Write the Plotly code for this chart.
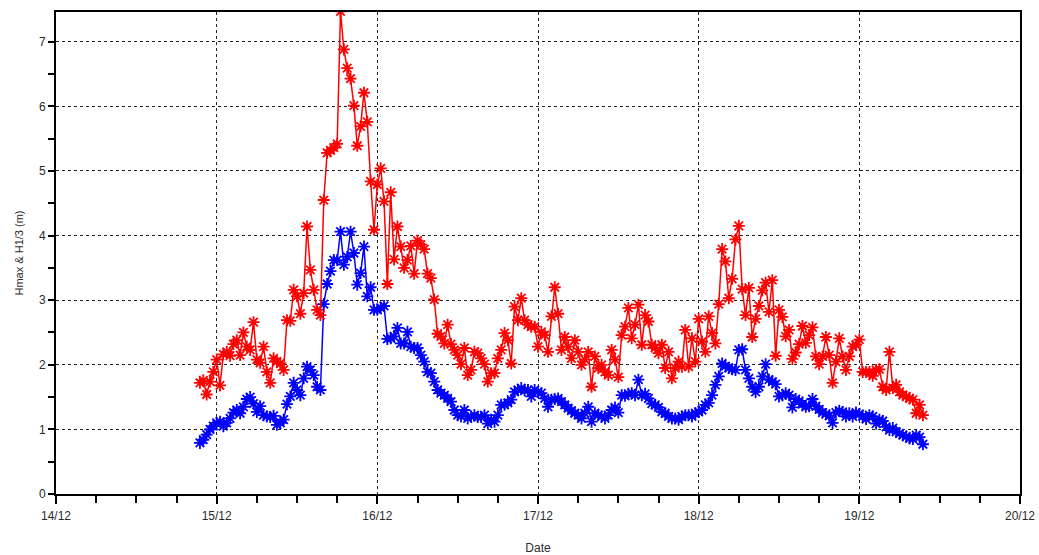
import pandas as pd
import plotly.graph_objects as go

# Sample times: every 30 minutes from 14/12 21:30 to 19/12 09:30
start_time = "2023-12-14 21:30"
n_points = 217
times = pd.date_range(start=start_time, periods=n_points, freq="30min")

# Hmax (red)
hmax = [
    1.72, 1.76, 1.54, 1.74, 1.89, 2.08, 1.68, 2.16, 2.20, 2.14, 2.32, 2.38, 2.15, 2.50, 2.28, 2.23,
    2.66, 2.08, 2.03, 2.28, 1.89, 1.72, 2.10, 2.05, 2.02, 1.92, 2.69, 2.68, 3.16, 3.06, 2.79, 3.11,
    4.14, 3.47, 3.16, 2.85, 2.77, 4.55,
    5.28, 5.32, 5.36, 5.42, 7.47, 6.88, 6.59, 6.43, 6.01, 5.39, 5.69, 6.21, 5.76, 4.84, 4.09, 4.79,
    5.04, 4.53, 3.25, 4.67, 3.63, 4.14, 3.83, 3.50, 3.62, 3.84, 3.41, 3.92, 3.86, 3.79, 3.41, 3.34,
    3.01,
    2.48, 2.44, 2.33, 2.62, 2.32, 2.23, 2.15, 2.01, 2.26, 1.84, 1.92, 2.20, 2.18, 2.10, 2.01, 1.74,
    1.87, 1.87, 2.10, 2.23, 2.49, 2.38, 2.02, 2.90, 2.69, 3.03, 2.69, 2.62, 2.59, 2.59, 2.28, 2.51,
    2.46, 2.20, 2.75, 3.20,
    2.79, 2.23, 2.43, 2.28, 2.10, 2.38, 2.20, 2.00, 2.08, 2.20, 1.66, 2.13, 1.95, 2.00, 1.89, 1.84,
    2.23, 2.08, 1.81, 2.46, 2.59, 2.88, 2.41, 2.62, 2.93, 2.31, 2.77, 2.67, 2.31, 2.26, 2.18, 2.31,
    1.95, 2.20, 1.79, 1.95, 2.05, 1.97, 2.54, 1.97, 2.41, 2.05, 2.71,
    2.36, 2.20, 2.75, 2.49, 2.33, 2.94, 3.79, 3.60, 3.03, 3.33, 3.94, 4.15, 3.17, 2.77, 3.19, 2.43,
    2.71, 2.91, 3.15, 3.27, 2.82, 3.31, 2.14, 2.85, 2.74, 2.44, 2.54, 2.09, 2.19, 2.32, 2.60, 2.34,
    2.46, 2.58, 2.13, 2.01, 2.13, 2.43, 2.15, 1.72, 2.05, 2.41, 2.13, 1.92, 2.13, 2.28,
    2.31, 2.39, 1.89, 1.89, 1.89, 1.83, 1.92, 1.93, 1.66, 1.61, 2.20, 1.64, 1.69, 1.58, 1.53, 1.51,
    1.48, 1.46, 1.25, 1.38, 1.22,
]

# H1/3 (blue)
h13 = [
    0.79, 0.84, 0.92, 1.00, 1.05, 1.10, 1.12, 1.05, 1.10, 1.17, 1.26, 1.30, 1.25, 1.35, 1.47, 1.50,
    1.40, 1.27, 1.36, 1.22, 1.20, 1.19, 1.21, 1.07, 1.10, 1.15, 1.39, 1.51, 1.72, 1.61, 1.53, 1.79,
    1.97, 1.92, 1.84, 1.66, 1.61, 2.94,
    3.25, 3.45, 3.62, 3.62, 4.06, 3.55, 3.67, 4.06, 3.73, 3.24, 3.42, 3.83, 3.06, 3.20, 2.85, 2.85,
    2.88, 2.91, 2.40, 2.41, 2.44, 2.57, 2.33, 2.33, 2.51, 2.28, 2.26, 2.26, 2.15, 2.05, 1.89,
    1.87, 1.74, 1.61, 1.56, 1.53, 1.48, 1.43, 1.30, 1.22, 1.20, 1.30, 1.17, 1.20, 1.22, 1.19, 1.19,
    1.22, 1.09, 1.15, 1.12, 1.22, 1.38, 1.38, 1.41, 1.46, 1.58, 1.61, 1.64, 1.60, 1.61, 1.51, 1.61,
    1.58, 1.56, 1.48, 1.35, 1.46,
    1.47, 1.48, 1.43, 1.38, 1.33, 1.29, 1.25, 1.22, 1.17, 1.25, 1.35, 1.12, 1.25, 1.22, 1.20, 1.17,
    1.22, 1.30, 1.34, 1.26, 1.53, 1.52, 1.55, 1.56, 1.53, 1.77, 1.53, 1.55, 1.48, 1.40, 1.38, 1.34,
    1.27, 1.25, 1.20, 1.17, 1.17, 1.15, 1.20, 1.22, 1.22, 1.20, 1.25, 1.27,
    1.30, 1.38, 1.41, 1.53, 1.69, 1.82, 2.02, 1.98, 1.95, 1.93, 1.92, 2.23, 2.24, 1.92, 1.79, 1.66,
    1.58, 1.66, 1.82, 2.01, 1.77, 1.74, 1.70, 1.51, 1.53, 1.56, 1.53, 1.34, 1.47, 1.44, 1.39, 1.35,
    1.36, 1.47, 1.36, 1.31, 1.26, 1.24, 1.21, 1.10, 1.26, 1.29, 1.27, 1.20, 1.25, 1.20,
    1.26, 1.24, 1.20, 1.16, 1.22, 1.20, 1.09, 1.15, 1.13, 1.04, 0.99, 1.02, 0.96, 0.94, 0.91, 0.89,
    0.86, 0.85, 0.91, 0.88, 0.77,
]

x_range = ["2023-12-14", "2023-12-20"]
y_range = [0, 7.46]
x_title = "Date"
y_title = "Hmax &amp; H1/3 (m)"

fig = go.Figure()
fig.add_trace(go.Scatter(
    x=times[:len(h13)], y=h13, mode="lines+markers", name="H1/3",
    line=dict(color="#0000ff", width=1.5),
    marker=dict(symbol="asterisk-open", size=10, color="#0000ff", line=dict(color="#0000ff", width=1.8)),
))
fig.add_trace(go.Scatter(
    x=times[:len(hmax)], y=hmax, mode="lines+markers", name="Hmax",
    line=dict(color="#ff0000", width=1.5),
    marker=dict(symbol="asterisk-open", size=10, color="#ff0000", line=dict(color="#ff0000", width=1.8)),
))

axis_font = dict(family="Liberation Sans, Arial, sans-serif", size=12, color="#2a2a2a")

fig.update_layout(
    width=1039, height=555,
    margin=dict(l=56, r=19, t=12, b=61),
    paper_bgcolor="white", plot_bgcolor="white",
    showlegend=False,
    font=axis_font,
)
fig.update_xaxes(
    automargin=False,
    type="date", range=x_range, tickformat="%d/%m", dtick=86400000,
    tick0="2023-12-14",
    ticks="outside", ticklen=8, tickwidth=2, tickcolor="black",
    ticklabelstandoff=2,
    showline=True, linecolor="black", linewidth=2, mirror=True,
    showgrid=True, gridcolor="#222222", griddash="dot", gridwidth=1,
    zeroline=False,
    minor=dict(dtick=6 * 3600 * 1000, ticks="outside", ticklen=7, tickwidth=2, tickcolor="black", showgrid=False),
    title=dict(text=x_title, font=dict(family="Liberation Sans, Arial, sans-serif", size=12, color="#2a2a2a"), standoff=22),
    tickfont=axis_font,
)
fig.update_yaxes(
    automargin=False,
    range=y_range, dtick=1, tick0=0,
    ticks="outside", ticklen=6, tickwidth=2, tickcolor="black",
    showline=True, linecolor="black", linewidth=2, mirror=True,
    showgrid=True, gridcolor="#222222", griddash="dot", gridwidth=1,
    zeroline=False,
    minor=dict(dtick=0.5, ticks="outside", ticklen=6, tickwidth=2, tickcolor="black", showgrid=False),
    title=dict(text=y_title, font=dict(family="Liberation Sans, Arial, sans-serif", size=11, color="#2a2a2a"), standoff=13),
    tickfont=axis_font,
)

fig.write_html("out.html")
